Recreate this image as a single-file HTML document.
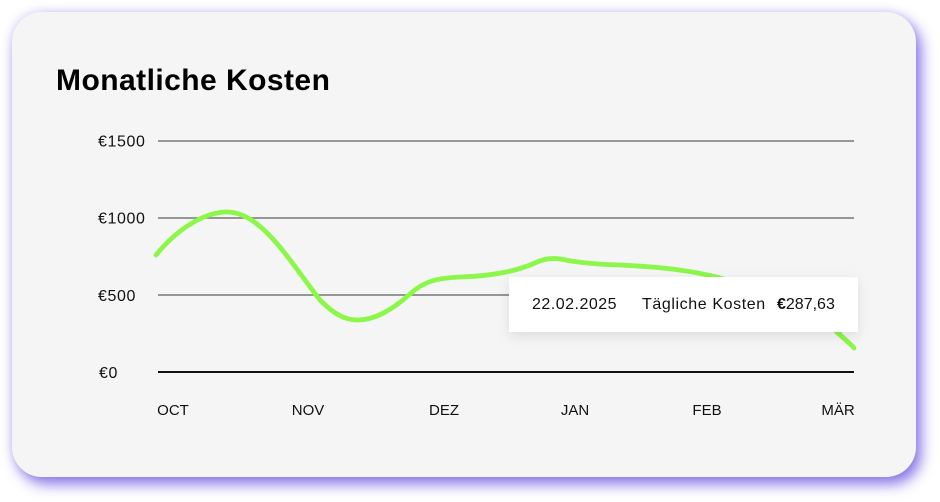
<!DOCTYPE html>
<html>
<head>
<meta charset="utf-8">
<style>
  html,body{margin:0;padding:0;background:#fff;}
  body{width:940px;height:502px;position:relative;overflow:hidden;font-family:"Liberation Sans",sans-serif;}
  .card{position:absolute;left:12px;top:12px;width:904px;height:465px;background:#f5f5f5;border-radius:30px;
    box-shadow:5px 7px 14px rgba(112,90,224,0.85), -2px -2px 8px rgba(180,170,235,0.25);}
  svg{position:absolute;left:0;top:0;}
  .tip{position:absolute;left:509px;top:277px;width:349px;height:55px;background:#fff;
    box-shadow:0 4px 12px rgba(0,0,0,0.10);}
  .tip span{position:absolute;top:18px;font-size:16px;color:#111;line-height:20px;white-space:nowrap;}
</style>
</head>
<body>
<div class="card"></div>
<svg width="940" height="502" viewBox="0 0 940 502">
  <text x="56" y="90" font-family="Liberation Sans, sans-serif" font-weight="bold" font-size="30" letter-spacing="0.45" fill="#000">Monatliche Kosten</text>
  <g stroke="#777" stroke-width="1.5">
    <line x1="158" y1="141" x2="854" y2="141"/>
    <line x1="158" y1="218" x2="854" y2="218"/>
    <line x1="158" y1="295" x2="854" y2="295"/>
  </g>
  <line x1="158" y1="372" x2="854" y2="372" stroke="#111" stroke-width="2"/>
  <g font-family="Liberation Sans, sans-serif" font-size="16" fill="#111" letter-spacing="0.6">
    <text x="98" y="146.5">€1500</text>
    <text x="98" y="223.5">€1000</text>
    <text x="98" y="301">€500</text>
    <text x="99" y="378">€0</text>
  </g>
  <g font-family="Liberation Sans, sans-serif" font-size="15" fill="#111" text-anchor="middle">
    <text x="173" y="415">OCT</text>
    <text x="308" y="415">NOV</text>
    <text x="444" y="415">DEZ</text>
    <text x="575" y="415">JAN</text>
    <text x="707" y="415">FEB</text>
    <text x="838" y="415">MÄR</text>
  </g>
  <path d="M156,255 C178,228 205,212 227,212 C262,212 290,262 320,300 C335,315 345,320 358,320 C375,320 392,310 410,294 C425,280 440,278 460,277 C490,276 515,272 535,263 C545,258 553,258 560,259 C575,262 590,264 620,265 C660,267 690,270 720,278 C770,292 815,310 835,330 C845,340 850,343 854,348"
        fill="none" stroke="#8cf74a" stroke-width="4.8" stroke-linecap="round"/>
  <circle cx="838" cy="331" r="4" fill="#8cf74a"/>
</svg>
<div class="tip">
  <span style="left:23px;letter-spacing:0.5px;">22.02.2025</span>
  <span style="left:133px;letter-spacing:0.6px;">Tägliche Kosten</span>
  <span style="left:268px;"><b>€</b>287,63</span>
</div>
</body>
</html>
